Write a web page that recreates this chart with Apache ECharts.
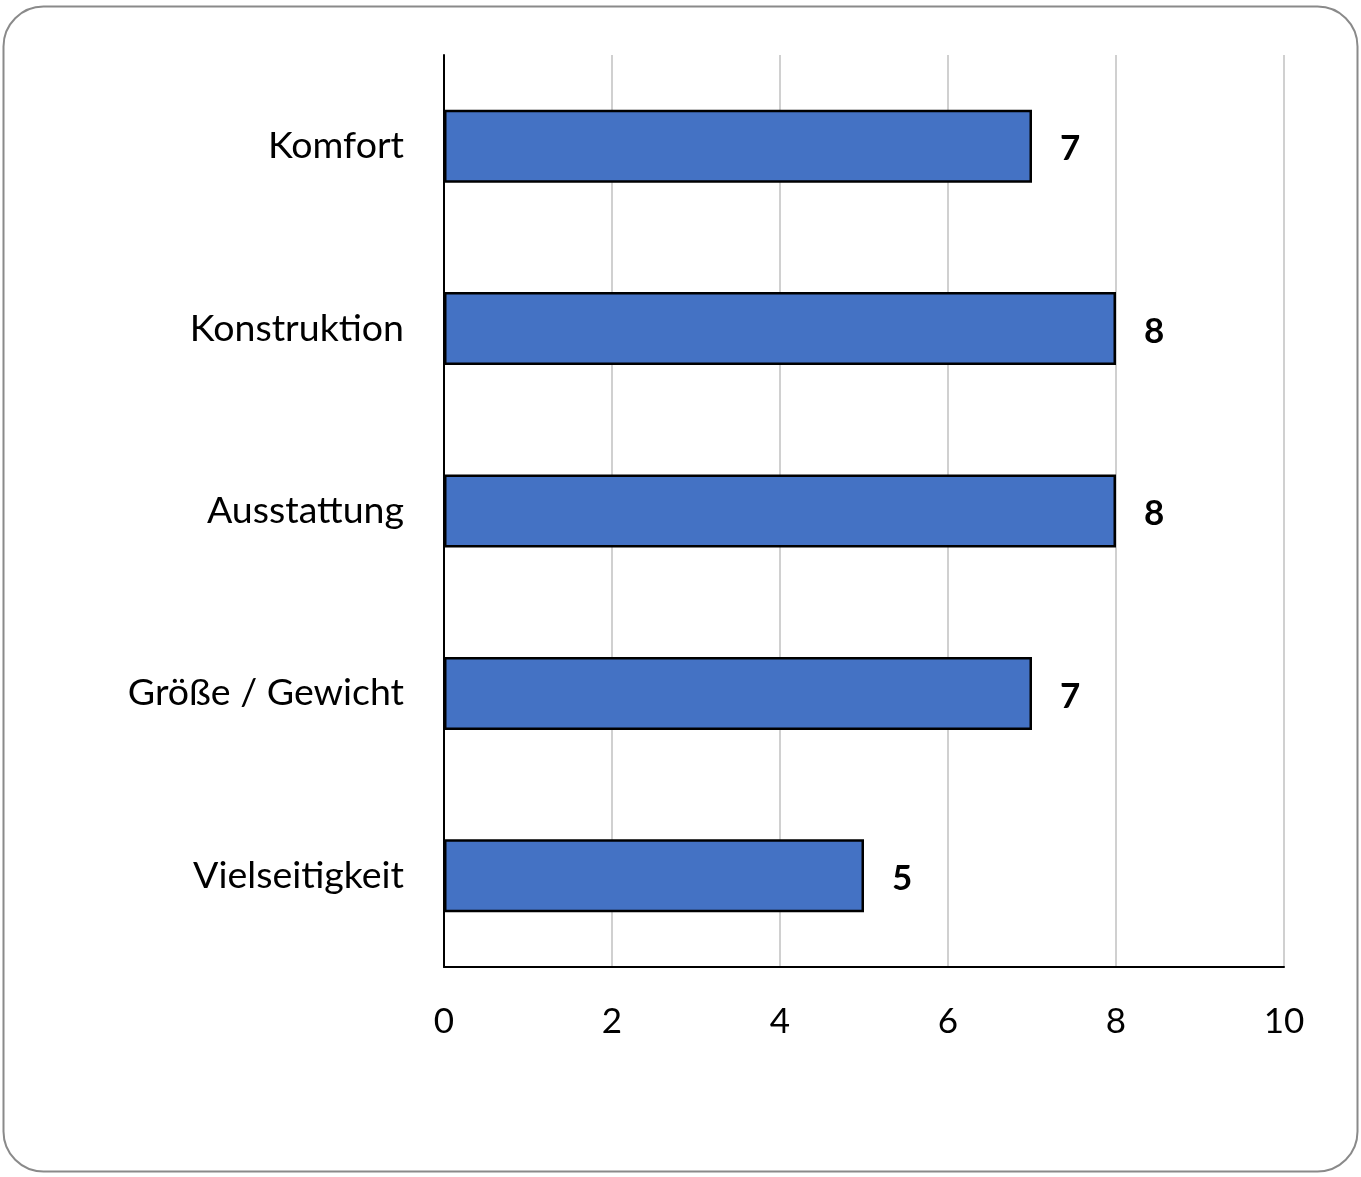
<!DOCTYPE html>
<html><head><meta charset="utf-8">
<script src="https://cdn.jsdelivr.net/npm/echarts@6/dist/echarts.min.js"></script>
<style>html,body{margin:0;padding:0;background:#fff}#c{width:1361px;height:1177px}</style>
</head><body><div id="c"></div>
<script>
const categories = ['Komfort', 'Konstruktion', 'Ausstattung', 'Größe / Gewicht', 'Vielseitigkeit'];
const values = [7, 8, 8, 7, 5];
const xTicks = [0, 2, 4, 6, 8, 10];

const chart = echarts.init(document.getElementById('c'), null, {renderer: 'canvas'});
const font = 'Lato, "Open Sans", sans-serif';
chart.setOption({
  animation: false,
  backgroundColor: '#fff',
  graphic: [{
    type: 'rect', left: 1, top: 4,
    shape: {width: 1354, height: 1165, r: 40},
    style: {fill: 'none', stroke: '#8a8a8a', lineWidth: 2}
  }],
  grid: {left: 444, right: 77, top: 55, bottom: 210, containLabel: false},
  xAxis: {
    type: 'value', min: xTicks[0], max: xTicks[xTicks.length - 1], interval: 2,
    axisLine: {show: true, lineStyle: {color: '#000', width: 2}},
    axisTick: {show: false},
    splitLine: {show: true, lineStyle: {color: '#d0d0d0', width: 2}},
    axisLabel: {color: '#000', fontSize: 35, fontFamily: font, margin: 37}
  },
  yAxis: {
    type: 'category', data: categories, inverse: true,
    axisLine: {show: true, lineStyle: {color: '#000', width: 2}},
    axisTick: {show: false},
    axisLabel: {color: '#000', fontSize: 37.5, fontFamily: font, margin: 40}
  },
  series: [{
    type: 'bar', data: values, barWidth: '40%',
    itemStyle: {color: '#4472C4', borderColor: '#000', borderWidth: 2.5},
    label: {show: true, position: 'right', distance: 28, color: '#000', fontSize: 35,
      fontWeight: 'bold', fontFamily: font, offset: [0, 3]}
  }]
});
</script></body></html>
